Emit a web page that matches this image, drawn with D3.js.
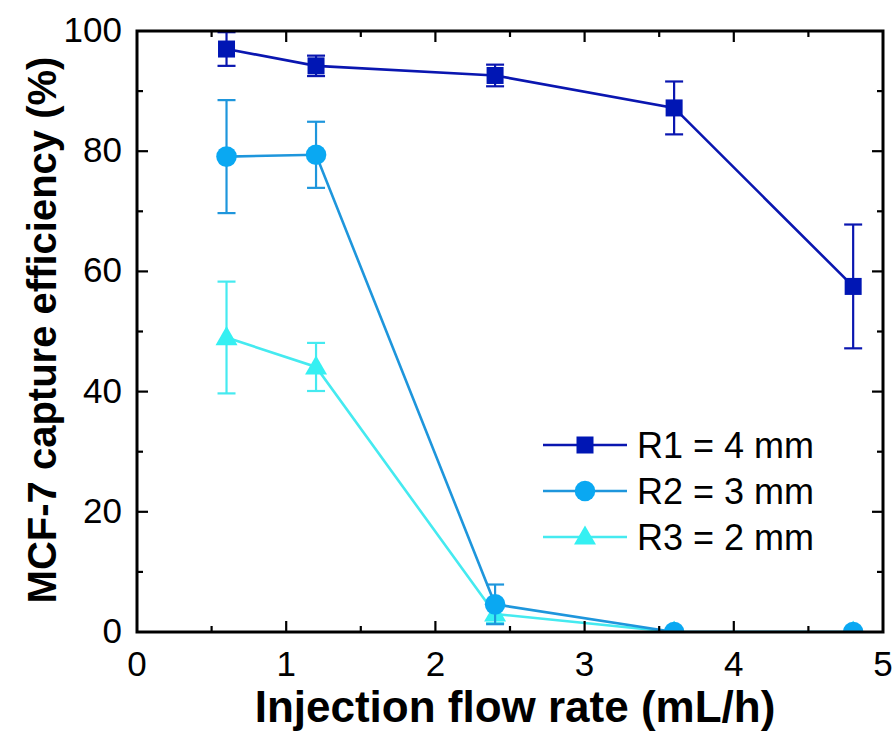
<!DOCTYPE html>
<html><head><meta charset="utf-8">
<script src="https://cdn.jsdelivr.net/npm/d3@7"></script>
<style>body{margin:0;background:#fff}</style>
</head><body>
<svg id="c" width="895" height="731"></svg>
<script>
const flowRates = [0.6, 1.2, 2.4, 3.6, 4.8];
const r1Values = [97.0, 94.2, 92.6, 87.2, 57.5];
const r1Errors = [2.8, 1.7, 1.8, 4.4, 10.3];
const r2Values = [79.1, 79.4, 4.6, 0, 0];
const r2Errors = [9.4, 5.5, 3.3, 0, 0];
const r3Values = [49.0, 44.1, 3.0, 0, 0];
const r3Errors = [9.3, 4.0, 1.5, 0, 0];
const seriesNames = ["R1 = 4 mm", "R2 = 3 mm", "R3 = 2 mm"];
const xTicks = [0, 1, 2, 3, 4, 5];
const yTicks = [0, 20, 40, 60, 80, 100];

const series = [
  {name: seriesNames[0], v: r1Values, e: r1Errors, color: "#0A16B0", mcolor: "#0016B4", shape: "square"},
  {name: seriesNames[1], v: r2Values, e: r2Errors, color: "#1E96DC", mcolor: "#0AA8F2", shape: "circle"},
  {name: seriesNames[2], v: r3Values, e: r3Errors, color: "#45EAF0", mcolor: "#35F0F2", shape: "triangle"}
];

const svg = d3.select("#c");
const L = 137, R = 883, T = 31, B = 632;
const x = d3.scaleLinear().domain([0, 5]).range([L, R]);
const y = d3.scaleLinear().domain([0, 100]).range([B, T]);
const font = "'Liberation Sans', Arial, sans-serif";

svg.append("defs").append("clipPath").attr("id", "clip")
  .append("rect").attr("x", L).attr("y", T).attr("width", R - L).attr("height", B - T);

const g = svg.append("g").attr("clip-path", "url(#clip)");

function marker(sel, shape, color, size) {
  if (shape === "square") {
    sel.append("rect").attr("x", -size / 2).attr("y", -size / 2).attr("width", size).attr("height", size).attr("fill", color);
  } else if (shape === "circle") {
    sel.append("circle").attr("r", size / 2 + 1.8).attr("fill", color);
  } else {
    const s = size + 5;
    const h = s * 0.866;
    sel.append("path").attr("d", `M0,${-h*0.6}L${s/2},${h*0.4}L${-s/2},${h*0.4}Z`).attr("fill", color);
  }
}

series.slice().reverse().forEach(s => {
  const pts = flowRates.map((f, i) => ({x: f, v: s.v[i], e: s.e[i]}));
  pts.forEach(p => {
    if (p.e <= 0) return;
    const cx = x(p.x);
    g.append("line").attr("x1", cx).attr("x2", cx).attr("y1", y(p.v + p.e)).attr("y2", y(p.v - p.e))
      .attr("stroke", s.color).attr("stroke-width", 2.2);
    [p.v + p.e, p.v - p.e].forEach(vv => {
      g.append("line").attr("x1", cx - 9).attr("x2", cx + 9).attr("y1", y(vv)).attr("y2", y(vv))
        .attr("stroke", s.color).attr("stroke-width", 2.2);
    });
  });
  g.append("path").datum(pts)
    .attr("d", d3.line().x(d => x(d.x)).y(d => y(d.v)))
    .attr("fill", "none").attr("stroke", s.color).attr("stroke-width", 2.6);
  pts.forEach(p => {
    const m = g.append("g").attr("transform", `translate(${x(p.x)},${y(p.v)})`);
    marker(m, s.shape, s.mcolor, 17);
  });
});

const axG = svg.append("g");
const xMinor = d3.range(0.5, 5, 1);
const yMinor = d3.range(10, 100, 20);
function ticksH(vals, len) {
  vals.forEach(v => {
    axG.append("line").attr("x1", x(v)).attr("x2", x(v)).attr("y1", B).attr("y2", B - len).attr("stroke", "#000").attr("stroke-width", 2.2);
    axG.append("line").attr("x1", x(v)).attr("x2", x(v)).attr("y1", T).attr("y2", T + len).attr("stroke", "#000").attr("stroke-width", 2.2);
  });
}
function ticksV(vals, len) {
  vals.forEach(v => {
    axG.append("line").attr("y1", y(v)).attr("y2", y(v)).attr("x1", L).attr("x2", L + len).attr("stroke", "#000").attr("stroke-width", 2.2);
    axG.append("line").attr("y1", y(v)).attr("y2", y(v)).attr("x1", R).attr("x2", R - len).attr("stroke", "#000").attr("stroke-width", 2.2);
  });
}
ticksH(xTicks.slice(1, -1), 11);
ticksH(xMinor, 6);
ticksV(yTicks.slice(1, -1), 11);
ticksV(yMinor, 6);

axG.append("rect").attr("x", L).attr("y", T).attr("width", R - L).attr("height", B - T)
  .attr("fill", "none").attr("stroke", "#000").attr("stroke-width", 3);

xTicks.forEach(t => {
  svg.append("text").attr("x", x(t)).attr("y", 676).attr("text-anchor", "middle")
    .attr("font-family", font).attr("font-size", 35).text(t);
});
yTicks.forEach(t => {
  svg.append("text").attr("x", 122).attr("y", y(t) + 11).attr("text-anchor", "end")
    .attr("font-family", font).attr("font-size", 35).text(t);
});

svg.append("text").attr("x", 515).attr("y", 722).attr("text-anchor", "middle")
  .attr("font-family", font).attr("font-weight", "bold").attr("font-size", 44)
  .text("Injection flow rate (mL/h)");
svg.append("text").attr("transform", `translate(56,330) rotate(-90)`).attr("text-anchor", "middle")
  .attr("font-family", font).attr("font-weight", "bold").attr("font-size", 40)
  .text("MCF-7 capture efficiency (%)");

series.forEach((s, i) => {
  const ly = 445 + i * 46;
  const lg = svg.append("g");
  lg.append("line").attr("x1", 543).attr("x2", 627).attr("y1", ly).attr("y2", ly)
    .attr("stroke", s.color).attr("stroke-width", 2.6);
  const m = lg.append("g").attr("transform", `translate(585,${ly})`);
  marker(m, s.shape, s.mcolor, 17);
  lg.append("text").attr("x", 637).attr("y", ly + 13).attr("font-family", font).attr("font-size", 36).text(s.name);
});
</script>
</body></html>
